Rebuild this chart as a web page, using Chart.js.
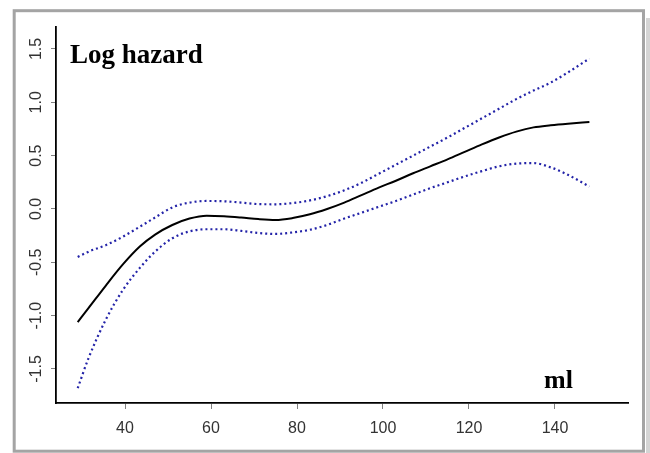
<!DOCTYPE html>
<html>
<head>
<meta charset="utf-8">
<title>Log hazard</title>
<script src="https://cdn.jsdelivr.net/npm/chart.js@4.4.0/dist/chart.umd.min.js"></script>
<style>
    body { margin: 0; background: #ffffff; }
    canvas { display: block; }
</style>
</head>
<body>
<canvas id="hazardChart" width="650" height="453"></canvas>
<script>
// Datos
const xValues = [29, 31.5, 35.5, 39.5, 43.5, 47, 51, 55, 59, 63, 67, 71, 75, 79, 83, 87, 91, 95, 99, 103, 107, 111, 115, 119, 123, 127, 131, 135, 139, 143, 148];
const hazardFit = [-1.06, -0.93, -0.72, -0.52, -0.35, -0.24, -0.15, -0.09, -0.063, -0.068, -0.08, -0.095, -0.103, -0.085, -0.05, 0.0, 0.06, 0.13, 0.20, 0.265, 0.335, 0.40, 0.465, 0.535, 0.605, 0.67, 0.725, 0.765, 0.785, 0.80, 0.815];
const upperCI = [-0.45, -0.40, -0.34, -0.26, -0.165, -0.08, 0.015, 0.06, 0.075, 0.072, 0.06, 0.046, 0.044, 0.055, 0.08, 0.12, 0.175, 0.245, 0.33, 0.415, 0.50, 0.585, 0.67, 0.76, 0.85, 0.94, 1.03, 1.11, 1.185, 1.28, 1.41];
const lowerCI = [-1.68, -1.40, -1.04, -0.76, -0.55, -0.40, -0.275, -0.21, -0.19, -0.19, -0.205, -0.225, -0.234, -0.22, -0.195, -0.15, -0.09, -0.035, 0.02, 0.075, 0.135, 0.195, 0.25, 0.305, 0.355, 0.40, 0.425, 0.43, 0.39, 0.32, 0.21];
const xTicks = [40, 60, 80, 100, 120, 140];
const yTicks = [-1.5, -1.0, -0.5, 0.0, 0.5, 1.0, 1.5];

// Convierte las listas en puntos {x, y}
function toPoints(ys) {
    return xValues.map((x, i) => ({ x: x, y: ys[i] }));
}

const dottedBlue = '#2323a8';

// Marco gris exterior y textos en serif negrita
const framePlugin = {
    id: 'framePlugin',
    beforeDraw(chart) {
        const ctx = chart.ctx;
        ctx.save();
        ctx.fillStyle = '#d4d4d4';
        ctx.fillRect(646, 18, 4, 435);
        ctx.strokeStyle = '#a4a4a4';
        ctx.lineWidth = 3;
        ctx.strokeRect(14.2, 10.7, 629.3, 440.5);
        ctx.restore();
    },
    afterDraw(chart) {
        const ctx = chart.ctx;
        ctx.save();
        ctx.fillStyle = '#000000';
        ctx.textBaseline = 'alphabetic';
        ctx.font = 'bold 27px "Liberation Serif", "Times New Roman", serif';
        ctx.fillText('Log hazard', 70, 63);
        ctx.font = 'bold 26px "Liberation Serif", "Times New Roman", serif';
        ctx.fillText('ml', 544, 388);
        ctx.restore();
    }
};

const config = {
    type: 'line',
    data: {
        datasets: [
            {
                label: 'Upper',
                data: toPoints(upperCI),
                borderColor: dottedBlue,
                borderWidth: 2.2,
                borderDash: [2, 3],
                pointRadius: 0,
                cubicInterpolationMode: 'monotone',
                fill: false
            },
            {
                label: 'Lower',
                data: toPoints(lowerCI),
                borderColor: dottedBlue,
                borderWidth: 2.2,
                borderDash: [2, 3],
                pointRadius: 0,
                cubicInterpolationMode: 'monotone',
                fill: false
            },
            {
                label: 'Log hazard',
                data: toPoints(hazardFit),
                borderColor: '#000000',
                borderWidth: 2,
                pointRadius: 0,
                cubicInterpolationMode: 'monotone',
                fill: false
            }
        ]
    },
    options: {
        responsive: false,
        animation: false,
        layout: {
            padding: { top: 27, right: 22, left: 0, bottom: 0 }
        },
        plugins: {
            legend: { display: false },
            tooltip: { enabled: false }
        },
        scales: {
            x: {
                type: 'linear',
                min: 23.95,
                max: 156.98,
                afterBuildTicks: (scale) => { scale.ticks = xTicks.map(v => ({ value: v })); },
                afterFit: (scale) => { scale.height = 50; },
                border: { display: true, color: '#000000', width: 1.8 },
                grid: { drawOnChartArea: false, drawTicks: true, tickLength: 6, color: '#808080', lineWidth: 1 },
                ticks: {
                    color: '#333333',
                    padding: 10,
                    maxRotation: 0,
                    font: { family: '"Liberation Sans", Arial, sans-serif', size: 16 },
                    callback: (v) => String(v)
                }
            },
            y: {
                type: 'linear',
                min: -1.819,
                max: 1.706,
                afterBuildTicks: (scale) => { scale.ticks = yTicks.map(v => ({ value: v })); },
                afterFit: (scale) => { scale.width = 56; },
                border: { display: true, color: '#000000', width: 1.8 },
                grid: { drawOnChartArea: false, drawTicks: true, tickLength: 5, color: '#808080', lineWidth: 1 },
                ticks: {
                    color: '#333333',
                    padding: 1,
                    minRotation: 90,
                    maxRotation: 90,
                    crossAlign: 'center',
                    font: { family: '"Liberation Sans", Arial, sans-serif', size: 16 },
                    callback: (v) => Number(v).toFixed(1)
                }
            }
        }
    },
    plugins: [framePlugin]
};

// Crear el gráfico
const ctx = document.getElementById('hazardChart').getContext('2d');
new Chart(ctx, config);
</script>
</body>
</html>
